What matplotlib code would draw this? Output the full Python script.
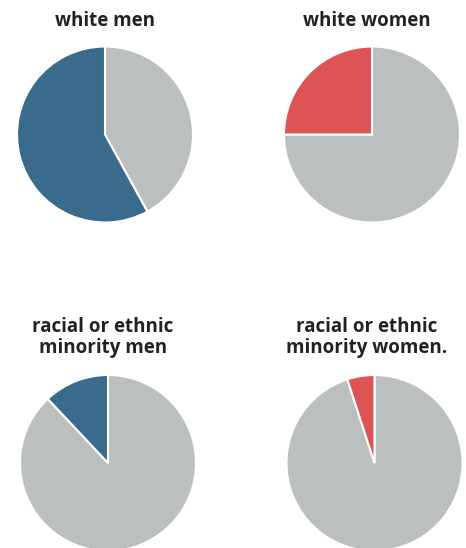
import matplotlib.pyplot as plt

plt.rcParams['font.family'] = ['Open Sans', 'DejaVu Sans']

titles = ["white men", "white women",
          "racial or ethnic\nminority men", "racial or ethnic\nminority women."]
# share in group (percent): [rest, group]
shares = [58, 25, 12, 5]
colors = ["#3a6b8c", "#dc5456", "#3a6b8c", "#dc5456"]
grey = "#bcbfc0"

W, H = 466, 548
fig = plt.figure(figsize=(W / 100, H / 100), dpi=100)

# pie centres (px from top-left) and radius
centres = [(105, 134.5), (372, 134.5), (108, 463), (374.5, 463)]
r = 88
title_pos = [(105, 21), (367, 21), (103, 337.5), (367, 337.5)]

for i in range(4):
    cx, cy = centres[i]
    ax = fig.add_axes([(cx - r) / W, (H - cy - r) / H, 2 * r / W, 2 * r / H])
    ax.pie([100 - shares[i], shares[i]], colors=[grey, colors[i]],
           startangle=90, counterclock=False,
           wedgeprops=dict(edgecolor="white", linewidth=1.5))
    ax.set_xlim(-1.0, 1.0)
    ax.set_ylim(-1.0, 1.0)
    tx, ty = title_pos[i]
    fig.text(tx / W, 1 - ty / H, titles[i], ha="center", va="center",
             fontsize=13.5, fontweight="bold", color="#222222", linespacing=1.08)

fig.savefig("out.png", dpi=100)
